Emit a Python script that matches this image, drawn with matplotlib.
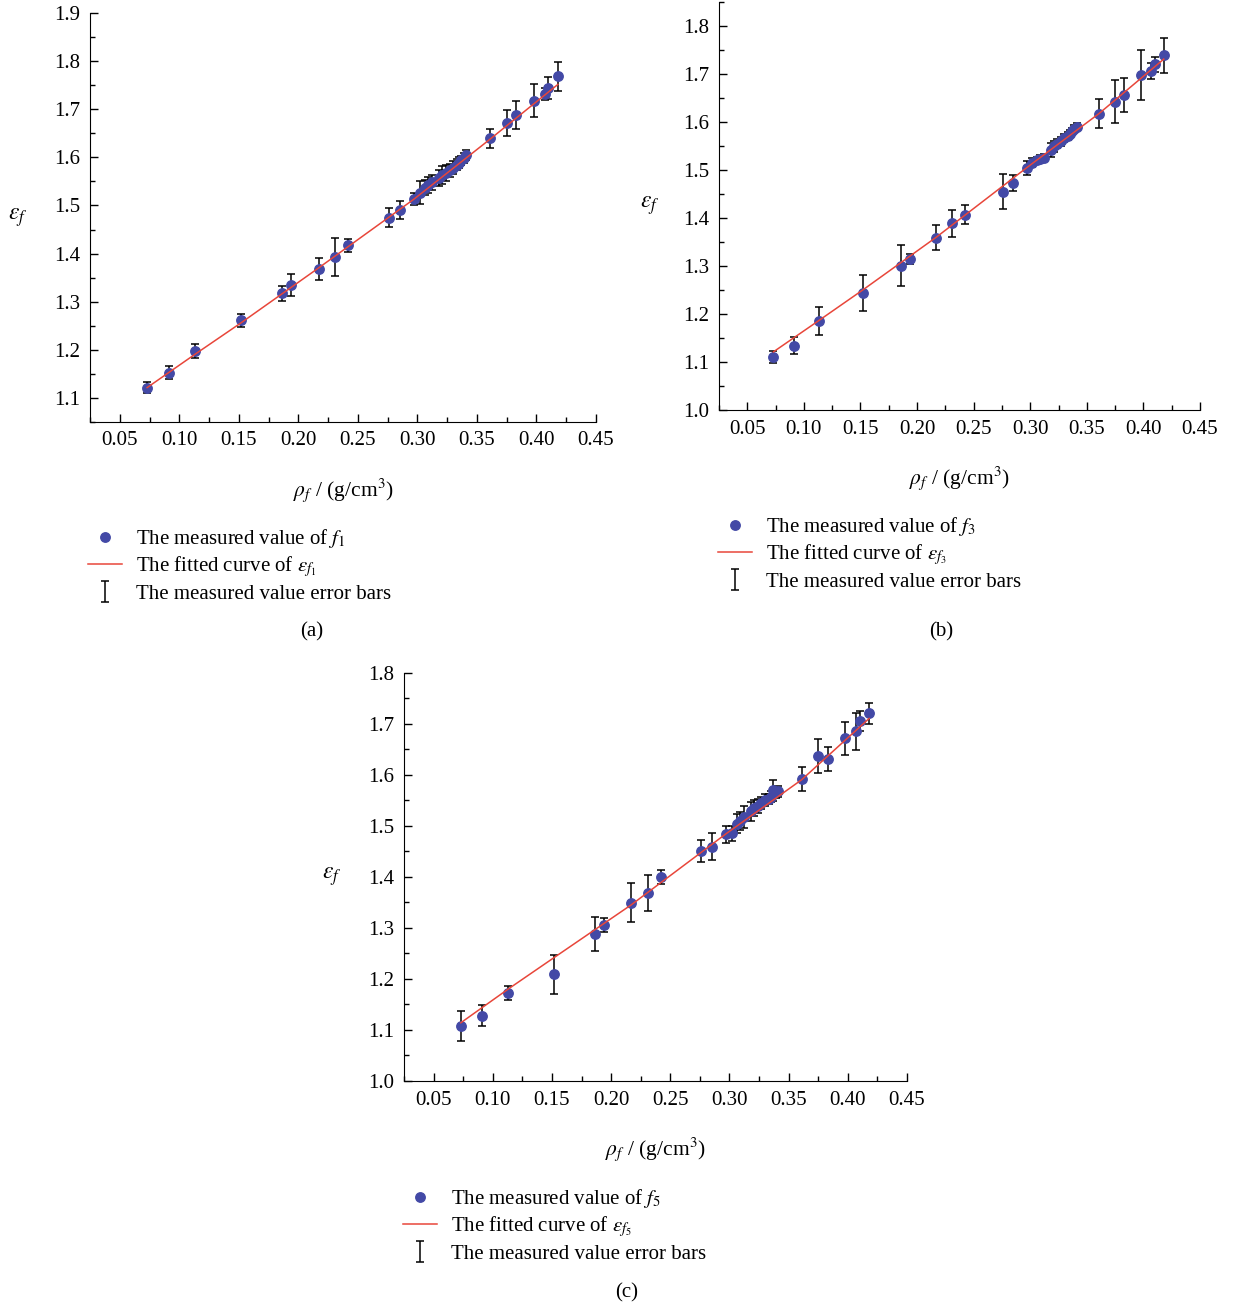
import matplotlib
matplotlib.use('Agg')
import matplotlib.pyplot as plt
from matplotlib.lines import Line2D
from matplotlib.ticker import MultipleLocator, FormatStrFormatter

plt.rcParams['font.family'] = ['Liberation Serif', 'DejaVu Serif']
plt.rcParams['mathtext.fontset'] = 'stix'

# density of the samples, same for all three panels
rho = [0.073, 0.091, 0.113, 0.152, 0.186, 0.194, 0.217, 0.231, 0.242, 0.276, 0.285, 0.297,
       0.302, 0.306, 0.309, 0.312, 0.318, 0.321, 0.324, 0.327, 0.330, 0.333, 0.335, 0.337, 0.339, 0.341,
       0.361, 0.375, 0.383, 0.398, 0.407, 0.410, 0.418]

eps_f1 = [1.121, 1.152, 1.197, 1.261, 1.317, 1.335, 1.367, 1.393, 1.417, 1.475, 1.491, 1.513,
          1.527, 1.537, 1.543, 1.548, 1.557, 1.563, 1.568, 1.573, 1.579, 1.585, 1.589, 1.594, 1.599, 1.605,
          1.640, 1.671, 1.689, 1.718, 1.732, 1.745, 1.769]
err_f1 = [0.012, 0.013, 0.015, 0.013, 0.016, 0.023, 0.023, 0.039, 0.014, 0.020, 0.019, 0.012,
          0.023, 0.016, 0.017, 0.015, 0.017, 0.019, 0.016, 0.014, 0.013, 0.012, 0.011, 0.010, 0.010, 0.010,
          0.020, 0.027, 0.029, 0.034, 0.012, 0.023, 0.030]

eps_f3 = [1.111, 1.134, 1.185, 1.244, 1.301, 1.315, 1.359, 1.389, 1.407, 1.455, 1.473, 1.504,
          1.515, 1.520, 1.523, 1.526, 1.542, 1.549, 1.555, 1.560, 1.566, 1.571, 1.576, 1.581, 1.586, 1.590,
          1.617, 1.642, 1.656, 1.697, 1.706, 1.720, 1.739]
err_f3 = [0.0125, 0.018, 0.029, 0.038, 0.043, 0.011, 0.026, 0.028, 0.020, 0.037, 0.016, 0.014,
          0.009, 0.008, 0.008, 0.007, 0.015, 0.012, 0.010, 0.009, 0.008, 0.008, 0.008, 0.007, 0.007, 0.007,
          0.030, 0.045, 0.035, 0.052, 0.016, 0.016, 0.037]

eps_f5 = [1.108, 1.128, 1.172, 1.209, 1.288, 1.306, 1.349, 1.368, 1.399, 1.450, 1.459, 1.483,
          1.485, 1.504, 1.509, 1.517, 1.528, 1.535, 1.539, 1.544, 1.550, 1.552, 1.557, 1.569, 1.565, 1.567,
          1.591, 1.636, 1.631, 1.671, 1.685, 1.705, 1.720]
err_f5 = [0.029, 0.021, 0.014, 0.038, 0.034, 0.014, 0.038, 0.035, 0.014, 0.022, 0.026, 0.016,
          0.015, 0.018, 0.017, 0.021, 0.019, 0.016, 0.014, 0.012, 0.012, 0.010, 0.010, 0.021, 0.010, 0.010,
          0.024, 0.033, 0.024, 0.033, 0.036, 0.019, 0.021]

# fitted curves
fit_x = [0.073, 0.113, 0.152, 0.217, 0.297, 0.361, 0.418]
fit_f1 = [1.121, 1.190, 1.256, 1.370, 1.513, 1.638, 1.752]
fit_f3 = [1.121, 1.186, 1.250, 1.360, 1.505, 1.618, 1.731]
fit_f5 = [1.114, 1.180, 1.242, 1.345, 1.484, 1.590, 1.710]

dot_color = '#4349A6'
line_color = '#E8463A'
fs = 15

fig = plt.figure(figsize=(12.56, 13.08), dpi=100)


def panel(rect, y, err, fit, ylim, idx, leg_xy, cap_xy, cap):
    ax = fig.add_axes(rect)
    eb = ax.errorbar(rho, y, yerr=err, fmt='none', ecolor='black', elinewidth=1.1,
                     capsize=2.6, capthick=1.1, zorder=1)
    ax.plot(rho, y, 'o', color=dot_color, markersize=6.8, zorder=2)
    ax.plot(fit_x, fit, '-', color=line_color, lw=1.1, zorder=3)
    ax.set_xlim(0.025, 0.45)
    ax.set_ylim(*ylim)
    ax.spines['top'].set_visible(False)
    ax.spines['right'].set_visible(False)
    ax.xaxis.set_major_locator(MultipleLocator(0.05))
    ax.xaxis.set_minor_locator(MultipleLocator(0.025))
    ax.yaxis.set_major_locator(MultipleLocator(0.1))
    ax.yaxis.set_minor_locator(MultipleLocator(0.05))
    ax.xaxis.set_major_formatter(FormatStrFormatter('%.2f'))
    ax.yaxis.set_major_formatter(FormatStrFormatter('%.1f'))
    ax.set_xticks([t / 100 for t in range(5, 50, 5)])
    ax.tick_params(which='major', direction='in', length=6, width=1, labelsize=fs, pad=7)
    ax.tick_params(which='minor', direction='in', length=3.5, width=1)
    ax.set_xlabel(r'$\rho_f$ / (g/cm$^3$)', fontsize=fs + 0.5)
    ax.xaxis.set_label_coords(0.5, -0.167)
    ax.xaxis.label.set_va('center')
    ax.set_ylabel(r'$\varepsilon_f$', fontsize=fs + 2, rotation=0)
    ax.yaxis.set_label_coords(-0.143, 0.5)
    ax.yaxis.label.set_va('center')
    ax.yaxis.label.set_ha('center')

    handles = [Line2D([], [], marker='o', ls='none', color=dot_color, markersize=6.8),
               Line2D([], [], color=line_color, lw=1.1),
               eb]
    labels = ['The measured value of $f_{%d}$' % idx,
              r'The fitted curve of $\varepsilon_{f_{%d}}$' % idx,
              'The measured value error bars']
    fig.legend(handles, labels, loc='upper left', bbox_to_anchor=leg_xy, frameon=False,
               fontsize=fs, handlelength=1.65, handletextpad=0.65, labelspacing=0.22,
               borderaxespad=0, borderpad=0)
    fig.text(cap_xy[0], cap_xy[1], cap, fontsize=fs, ha='center', va='center')
    return ax


W, H = 1256, 1308
panel([90 / W, 1 - 421.7 / H, 506 / W, 408.4 / H], eps_f1, err_f1, fit_f1, (1.05, 1.9), 1,
      (88 / W, 1 - 527 / H), (312 / W, 1 - 632 / H), '(a)')
panel([719 / W, 1 - 410 / H, 481 / W, 408 / H], eps_f3, err_f3, fit_f3, (1.0, 1.85), 3,
      (718 / W, 1 - 515 / H), (941 / W, 1 - 632 / H), '(b)')
panel([404 / W, 1 - 1081 / H, 503 / W, 408.5 / H], eps_f5, err_f5, fit_f5, (1.0, 1.8), 5,
      (403 / W, 1 - 1187 / H), (627 / W, 1 - 1293 / H), '(c)')

plt.savefig('out.png', dpi=100)
